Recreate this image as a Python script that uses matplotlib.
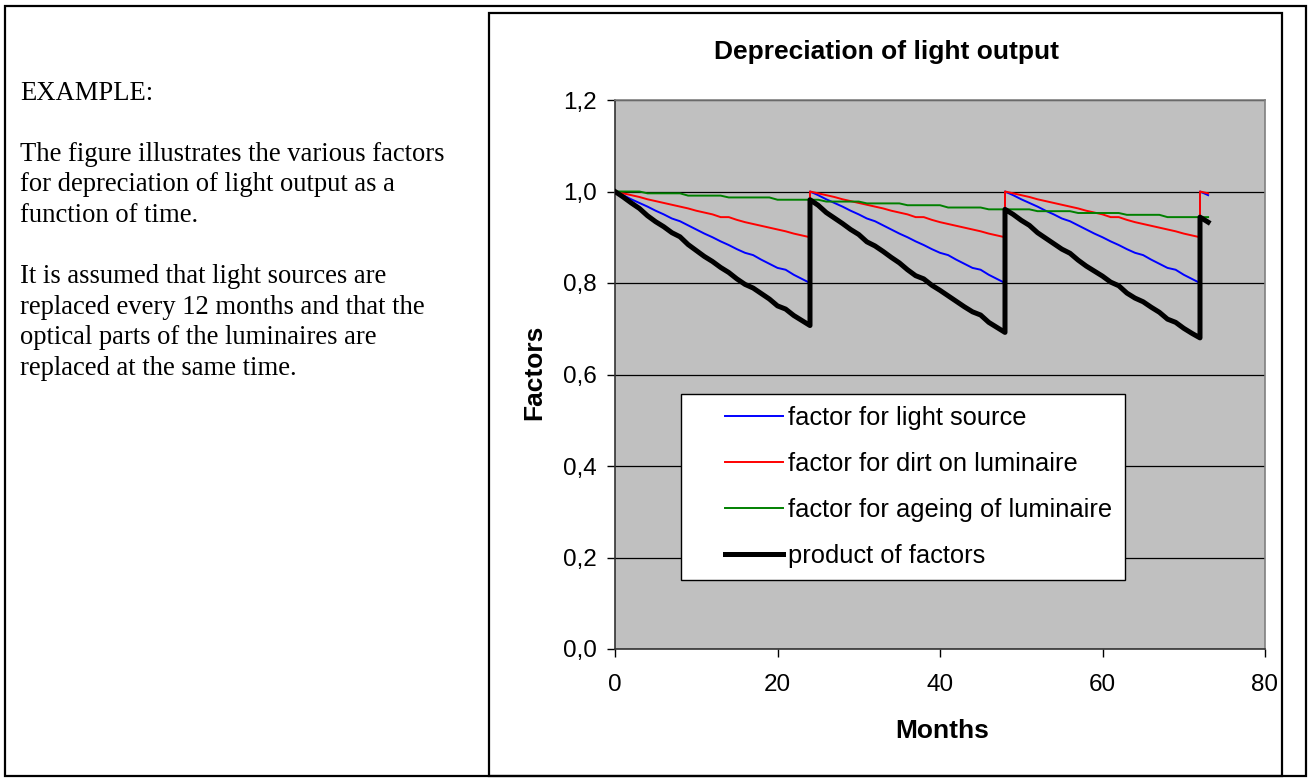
import matplotlib
matplotlib.use("Agg")
import matplotlib.pyplot as plt
from matplotlib.patches import Rectangle

# ---------------- data ----------------
months = [0, 1, 2, 3, 4, 5, 6, 7, 8, 9, 10, 11, 12, 13, 14, 15, 16, 17, 18, 19, 20, 21, 22, 23, 24,
          24, 25, 26, 27, 28, 29, 30, 31, 32, 33, 34, 35, 36, 37, 38, 39, 40, 41, 42, 43, 44, 45, 46, 47, 48,
          48, 49, 50, 51, 52, 53, 54, 55, 56, 57, 58, 59, 60, 61, 62, 63, 64, 65, 66, 67, 68, 69, 70, 71, 72,
          72, 73]

light_source = [1.000, 0.992, 0.983, 0.975, 0.967, 0.958, 0.950, 0.941, 0.935, 0.926, 0.917, 0.908, 0.900,
                0.891, 0.883, 0.874, 0.866, 0.861, 0.851, 0.842, 0.833, 0.829, 0.818, 0.809, 0.800,
                1.000, 0.992, 0.983, 0.975, 0.967, 0.958, 0.950, 0.941, 0.935, 0.926, 0.917, 0.908, 0.900,
                0.891, 0.883, 0.874, 0.866, 0.861, 0.851, 0.842, 0.833, 0.829, 0.818, 0.809, 0.800,
                1.000, 0.992, 0.983, 0.975, 0.967, 0.958, 0.950, 0.941, 0.935, 0.926, 0.917, 0.908, 0.900,
                0.891, 0.883, 0.874, 0.866, 0.861, 0.851, 0.842, 0.833, 0.829, 0.818, 0.809, 0.800,
                1.000, 0.992]

dirt = [1.000, 0.996, 0.992, 0.988, 0.983, 0.979, 0.975, 0.971, 0.967, 0.963, 0.958, 0.954, 0.950,
        0.944, 0.944, 0.938, 0.933, 0.929, 0.925, 0.921, 0.917, 0.913, 0.908, 0.904, 0.900,
        1.000, 0.996, 0.992, 0.988, 0.983, 0.979, 0.975, 0.971, 0.967, 0.963, 0.958, 0.954, 0.950,
        0.944, 0.944, 0.938, 0.933, 0.929, 0.925, 0.921, 0.917, 0.913, 0.908, 0.904, 0.900,
        1.000, 0.996, 0.992, 0.988, 0.983, 0.979, 0.975, 0.971, 0.967, 0.963, 0.958, 0.954, 0.950,
        0.944, 0.944, 0.938, 0.933, 0.929, 0.925, 0.921, 0.917, 0.913, 0.908, 0.904, 0.900,
        1.000, 0.996]

ageing = [1.000, 1.000, 1.000, 1.000, 0.996, 0.996, 0.996, 0.996, 0.996, 0.991, 0.991, 0.991, 0.991,
          0.991, 0.987, 0.987, 0.987, 0.987, 0.987, 0.987, 0.982, 0.982, 0.982, 0.982, 0.982,
          0.982, 0.982, 0.978, 0.978, 0.978, 0.978, 0.978, 0.974, 0.974, 0.974, 0.974, 0.974, 0.970,
          0.970, 0.970, 0.970, 0.970, 0.965, 0.965, 0.965, 0.965, 0.965, 0.961, 0.961, 0.961,
          0.961, 0.961, 0.961, 0.961, 0.957, 0.957, 0.957, 0.957, 0.957, 0.953, 0.953, 0.953, 0.953,
          0.953, 0.953, 0.949, 0.949, 0.949, 0.949, 0.949, 0.944, 0.944, 0.944, 0.944, 0.944,
          0.944, 0.944]

product = [1.000, 0.988, 0.975, 0.963, 0.947, 0.934, 0.923, 0.910, 0.901, 0.884, 0.871, 0.858, 0.847,
           0.834, 0.823, 0.809, 0.797, 0.789, 0.777, 0.765, 0.750, 0.743, 0.729, 0.718, 0.707,
           0.982, 0.970, 0.954, 0.942, 0.930, 0.917, 0.906, 0.890, 0.881, 0.869, 0.856, 0.844, 0.829,
           0.816, 0.809, 0.795, 0.784, 0.772, 0.760, 0.748, 0.737, 0.730, 0.714, 0.703, 0.692,
           0.961, 0.950, 0.937, 0.926, 0.910, 0.898, 0.886, 0.874, 0.865, 0.850, 0.837, 0.826, 0.815,
           0.802, 0.794, 0.778, 0.767, 0.759, 0.747, 0.736, 0.721, 0.714, 0.701, 0.690, 0.680,
           0.944, 0.933]

series_labels = ["factor for light source", "factor for dirt on luminaire",
                 "factor for ageing of luminaire", "product of factors"]
x_ticks = [0, 20, 40, 60, 80]
x_tick_labels = ["0", "20", "40", "60", "80"]
y_ticks = [0.0, 0.2, 0.4, 0.6, 0.8, 1.0, 1.2]
y_tick_labels = ["0,0", "0,2", "0,4", "0,6", "0,8", "1,0", "1,2"]

title_text = "Depreciation of light output"
x_label = "Months"
y_label = "Factors"
side_lines = ["EXAMPLE:", "",
              "The figure illustrates the various factors",
              "for depreciation of light output as a",
              "function of time.", "",
              "It is assumed that light sources are",
              "replaced every 12 months and that the",
              "optical parts of the luminaires are",
              "replaced at the same time."]

# ---------------- figure ----------------
W, H = 1310, 780
fig = plt.figure(figsize=(W / 100, H / 100), dpi=100)
fig.patch.set_facecolor("white")

def fx(px):
    return px / W

def fy(py):
    return 1 - py / H

SANS = "Liberation Sans"

# outer frame and chart frame
fig.patches.append(Rectangle((fx(5), fy(776)), fx(1306) - fx(5), fy(6) - fy(776),
                             transform=fig.transFigure, fill=False, lw=1.6, ec="black"))
fig.patches.append(Rectangle((fx(489), fy(776)), fx(1282) - fx(489), fy(13) - fy(776),
                             transform=fig.transFigure, fill=False, lw=1.6, ec="black"))

ax = fig.add_axes([fx(615), fy(649), fx(1265) - fx(615), fy(100) - fy(649)])
ax.set_facecolor("#C0C0C0")

ax.plot(months, light_source, color="#0000FF", lw=1.4, label=series_labels[0], zorder=3)
ax.plot(months, dirt, color="#FF0000", lw=1.4, label=series_labels[1], zorder=3)
ax.plot(months, ageing, color="#008000", lw=1.4, label=series_labels[2], zorder=3)
ax.plot(months, product, color="black", lw=3.6, label=series_labels[3], zorder=4)

ax.set_xlim(0, 80)
ax.set_ylim(0, 1.2)
ax.set_xticks(x_ticks)
ax.set_xticklabels(x_tick_labels)
ax.set_yticks(y_ticks)
ax.set_yticklabels(y_tick_labels)
for t in ax.get_xticklabels() + ax.get_yticklabels():
    t.set_fontfamily(SANS)
    t.set_fontsize(17.5)
ax.tick_params(axis="both", direction="out", length=6, width=1, color="black")
ax.tick_params(axis="x", pad=12)
ax.tick_params(axis="y", pad=7)

ax.yaxis.grid(True, color="black", lw=0.9)
ax.set_axisbelow(True)
for s in ["top", "right"]:
    ax.spines[s].set_color("#808080")
    ax.spines[s].set_linewidth(1.2)
for s in ["left", "bottom"]:
    ax.spines[s].set_color("#333333")
    ax.spines[s].set_linewidth(1.2)

# legend box + legend
ax.add_patch(Rectangle(((681 - 615) / 650, (649 - 580) / 549), (1125 - 681) / 650, (580 - 394) / 549,
                       transform=ax.transAxes, facecolor="white", edgecolor="black", lw=1.0, zorder=5))
leg = ax.legend(loc="upper left", bbox_to_anchor=((725 - 615) / 650, (649 - 406) / 549),
                frameon=False, prop={"family": SANS, "size": 18.4},
                handlelength=2.25, handletextpad=0.2, labelspacing=0.86, borderpad=0.0,
                borderaxespad=0.0)
leg.set_zorder(6)

fig.text(fx(887), fy(52), title_text, ha="center", va="center",
         fontfamily=SANS, fontweight="bold", fontsize=19)
fig.text(fx(942), fy(731), x_label, ha="center", va="center",
         fontfamily=SANS, fontweight="bold", fontsize=19)
fig.text(fx(534), fy(372), y_label, ha="center", va="center", rotation=90,
         fontfamily=SANS, fontweight="bold", fontsize=19)

for i, line in enumerate(side_lines):
    if line:
        fig.text(fx(20), fy(99.5 + i * 30.6), line, ha="left", va="baseline",
                 fontfamily="Liberation Serif", fontsize=19.2)

fig.savefig("out.png", dpi=100)
